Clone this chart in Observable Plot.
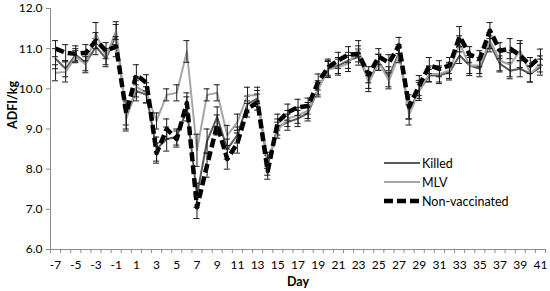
<!DOCTYPE html>
<html>
<head>
<meta charset="utf-8">
<script src="https://cdn.jsdelivr.net/npm/d3@7"></script>
<script src="https://cdn.jsdelivr.net/npm/@observablehq/plot@0.6"></script>
<style>
  body { margin: 0; background: #fff; }
  #wrap { position: relative; width: 550px; height: 291px; font-family: Lato, "Open Sans", sans-serif; }
  #wrap svg { font-family: Lato, "Open Sans", sans-serif; }
  g[aria-label="y-axis"] .tick line, g[aria-label="y-axis tick"] path { stroke: #8c8c8c; }
  g[aria-label="y-axis"] .domain { display: none; }
  .leg { position: absolute; left: 384px; height: 16px; display: flex; align-items: center; font-size: 12.5px; color: #000; }
  .leg svg { margin-right: 2px; }
</style>
</head>
<body>
<div id="wrap"></div>
<script>
const days = [-7,-6,-5,-4,-3,-2,-1,0,1,2,3,4,5,6,7,8,9,10,11,12,13,14,15,16,17,18,19,20,21,22,23,24,25,26,27,28,29,30,31,32,33,34,35,36,37,38,39,40,41];
const xTickLabels = [-7,-5,-3,-1,1,3,5,7,9,11,13,15,17,19,21,23,25,27,29,31,33,35,37,39,41];
const yTicks = [6,7,8,9,10,11,12];
const seriesNames = ["Killed", "MLV", "Non-vaccinated"];

const killed = [10.75,10.5,10.85,10.65,11.05,10.75,11.35,9.3,9.95,9.85,8.5,8.75,8.8,9.5,7.35,8.7,9.3,8.5,8.85,9.62,9.76,8.1,9.05,9.17,9.26,9.4,10.0,10.5,10.58,10.71,10.79,10.21,10.66,10.3,10.9,9.45,9.96,10.33,10.33,10.42,10.83,10.58,10.5,11.12,10.62,10.45,10.5,10.37,10.54];
const mlv = [10.4,10.42,10.8,10.6,11.38,10.8,11.45,9.25,10.05,9.9,9.2,9.85,9.9,10.93,8.47,9.85,9.9,8.84,9.17,9.84,9.84,8.22,8.97,9.26,9.34,9.46,10.0,10.48,10.54,10.63,11.0,10.13,10.66,10.2,10.85,9.35,9.96,10.37,10.37,10.46,11.12,10.58,10.58,11.2,10.7,10.6,10.95,10.37,10.62];
const nonVacc = [11.0,10.9,10.87,10.9,11.2,10.95,11.05,9.4,10.35,10.15,8.4,9.0,8.75,9.65,7.05,8.1,9.1,8.25,8.65,9.5,9.67,7.95,9.17,9.42,9.54,9.57,10.17,10.54,10.71,10.85,10.87,10.35,10.8,10.65,11.08,9.55,10.08,10.58,10.5,10.58,11.3,10.85,10.75,11.45,10.95,11.0,10.83,10.58,10.79];

const killedSE = [0.25,0.2,0.15,0.2,0.2,0.2,0.25,0.3,0.25,0.2,0.3,0.3,0.2,0.3,0.3,0.3,0.25,0.25,0.2,0.2,0.2,0.25,0.2,0.2,0.2,0.2,0.15,0.2,0.2,0.2,0.2,0.2,0.2,0.25,0.2,0.2,0.2,0.15,0.2,0.2,0.2,0.2,0.2,0.2,0.2,0.2,0.2,0.2,0.2];
const mlvSE = [0.2,0.25,0.15,0.2,0.27,0.2,0.22,0.3,0.25,0.25,0.2,0.15,0.2,0.27,0.4,0.15,0.2,0.25,0.2,0.2,0.2,0.2,0.2,0.2,0.2,0.2,0.2,0.2,0.2,0.2,0.2,0.2,0.2,0.2,0.2,0.25,0.25,0.2,0.2,0.2,0.2,0.25,0.2,0.2,0.25,0.3,0.25,0.2,0.2];
const nonVaccSE = [0.2,0.2,0.2,0.2,0.2,0.2,0.25,0.3,0.25,0.2,0.25,0.25,0.2,0.25,0.28,0.3,0.25,0.25,0.25,0.2,0.2,0.2,0.2,0.2,0.2,0.2,0.2,0.2,0.2,0.2,0.2,0.2,0.2,0.2,0.2,0.3,0.25,0.2,0.2,0.2,0.25,0.2,0.2,0.2,0.2,0.25,0.3,0.2,0.2];

function rows(values, ses, name) {
  return days.map((d, i) => ({day: d, value: values[i], se: ses[i], series: name}));
}
const dKilled = rows(killed, killedSE, seriesNames[0]);
const dMlv = rows(mlv, mlvSE, seriesNames[1]);
const dNon = rows(nonVacc, nonVaccSE, seriesNames[2]);

const bounds = days.map(d => d - 0.5).concat([days[days.length - 1] + 0.5]);
const capHalf = 0.3;

function errorMarks(data) {
  return [
    Plot.ruleX(data, {x: "day", y1: d => d.value - d.se, y2: d => d.value + d.se, stroke: "#1a1a1a", strokeWidth: 1}),
    Plot.ruleY(data, {y: d => d.value + d.se, x1: d => d.day - capHalf, x2: d => d.day + capHalf, stroke: "#1a1a1a", strokeWidth: 1}),
    Plot.ruleY(data, {y: d => d.value - d.se, x1: d => d.day - capHalf, x2: d => d.day + capHalf, stroke: "#1a1a1a", strokeWidth: 1})
  ];
}

const chart = Plot.plot({
  width: 550,
  height: 291,
  marginTop: 8,
  marginRight: 5,
  marginBottom: 42,
  marginLeft: 50,
  style: {fontSize: "12px", color: "#000", background: "#fff"},
  x: {type: "linear", domain: [bounds[0], bounds[bounds.length - 1]], ticks: xTickLabels, tickFormat: d => String(d), tickSize: 0, tickPadding: 11, label: null},
  y: {domain: [6, 12], ticks: yTicks, tickFormat: d3.format(".1f"), tickSize: 4, tickPadding: 4, label: null},
  marks: [
    Plot.ruleX(bounds, {x: d => d, y1: 6, y2: 5.9, stroke: "#8c8c8c"}),
    Plot.ruleY([6], {stroke: "#8c8c8c"}),
    Plot.ruleX([bounds[0]], {stroke: "#8c8c8c"}),
    Plot.line(dKilled, {x: "day", y: "value", stroke: "#595959", strokeWidth: 2}),
    ...errorMarks(dKilled),
    Plot.line(dMlv, {x: "day", y: "value", stroke: "#a6a6a6", strokeWidth: 2}),
    ...errorMarks(dMlv),
    Plot.line(dNon, {x: "day", y: "value", stroke: "#000", strokeWidth: 4.5, strokeDasharray: "9,4", strokeLinecap: "butt"}),
    ...errorMarks(dNon),
    Plot.text(["ADFI/kg"], {frameAnchor: "left", rotate: -90, dx: -38, fontWeight: "bold", fontSize: 12.5}),
    Plot.text(["Day"], {frameAnchor: "bottom", dy: 36, fontWeight: "bold", fontSize: 12.5})
  ]
});

// make sure the non-vaccinated line is dashed
chart.querySelectorAll('g[aria-label="line"] path').forEach(p => {
  const g = p.parentNode;
  if ((g.getAttribute("stroke") || p.getAttribute("stroke")) === "#000" || g.getAttribute("stroke-width") === "4.5") {
    p.setAttribute("stroke-dasharray", "9,4");
  }
});

const wrap = document.getElementById("wrap");
wrap.appendChild(chart);

const legendItems = [
  {name: seriesNames[0], stroke: "#595959", width: 2, dash: null, cy: 163},
  {name: seriesNames[1], stroke: "#a6a6a6", width: 2, dash: null, cy: 182},
  {name: seriesNames[2], stroke: "#000", width: 4.5, dash: "9,4", cy: 201}
];
for (const it of legendItems) {
  const div = document.createElement("div");
  div.className = "leg";
  div.style.top = (it.cy - 8) + "px";
  div.innerHTML = `<svg width="36" height="10"><line x1="0" y1="5" x2="36" y2="5" stroke="${it.stroke}" stroke-width="${it.width}" ${it.dash ? `stroke-dasharray="${it.dash}"` : ""}/></svg><span>${it.name}</span>`;
  wrap.appendChild(div);
}
</script>
</body>
</html>
